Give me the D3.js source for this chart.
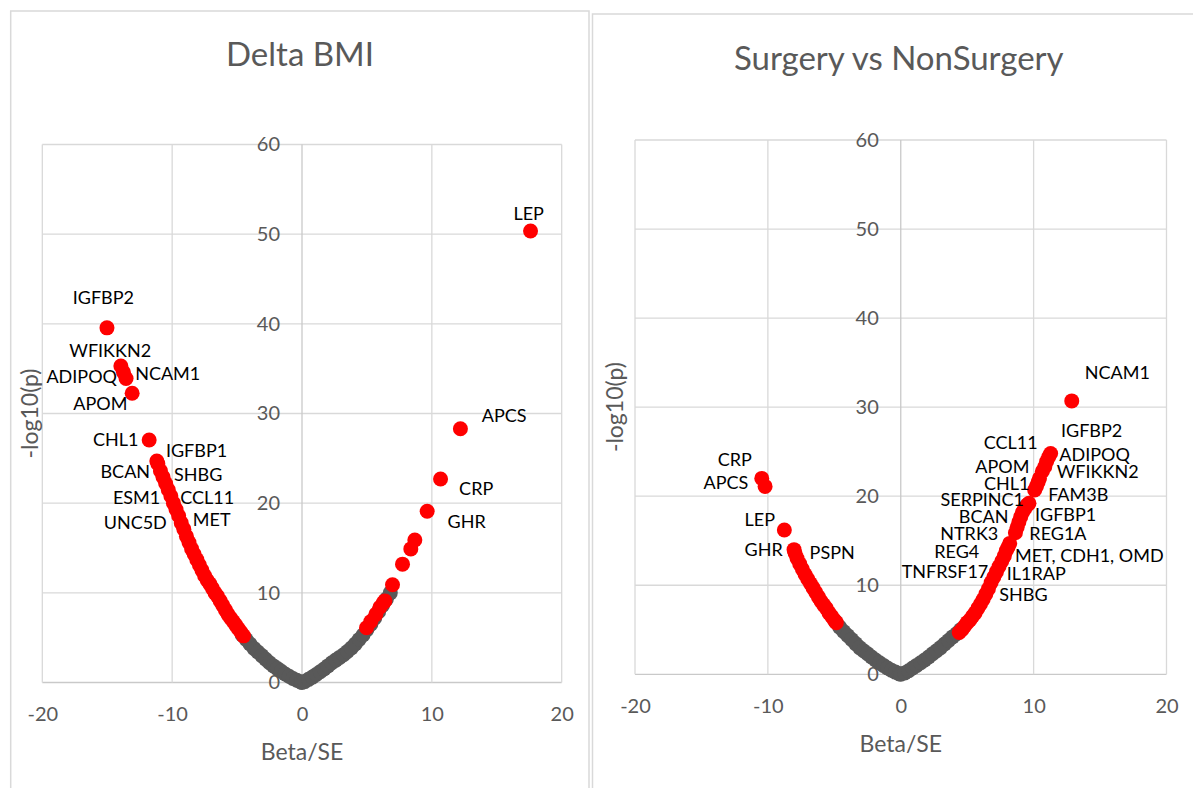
<!DOCTYPE html>
<html>
<head>
<meta charset="utf-8">
<script src="https://cdn.jsdelivr.net/npm/d3@7"></script>
<style>
  body { margin: 0; background: #fff; }
  text { font-family: Lato, "Open Sans", sans-serif; }
</style>
</head>
<body>
<div id="chart"></div>
<script>
// axis values
var xTicks = [-20, -10, 0, 10, 20];
var yTicks = [0, 10, 20, 30, 40, 50, 60];
var titles = ["Delta BMI", "Surgery vs NonSurgery"];
var xTitle = "Beta/SE";
var yTitle = "-log10(p)";

// Delta BMI : [Beta/SE, -log10(p)]
var bmiGray = [[-4.6,5.3],[-4.3,4.8],[-4.0,4.3],[-3.7,3.8],[-3.4,3.4],[-3.1,3.0],[-2.8,2.6],[-2.5,2.2],
  [-2.2,1.85],[-1.9,1.55],[-1.6,1.25],[-1.3,0.95],[-1.0,0.7],[-0.7,0.45],[-0.4,0.25],[-0.1,0.05],[0,0],
  [0.2,0.1],[0.5,0.35],[0.8,0.6],[1.1,0.9],[1.4,1.2],[1.7,1.5],[2.0,1.85],[2.3,2.2],[2.6,2.5],[2.9,2.8],
  [3.2,3.1],[3.5,3.45],[3.8,3.85],[4.1,4.3],[4.4,4.8],[4.7,5.3],[5.0,5.9],[5.3,6.5],[5.6,7.2],[5.9,7.9],
  [6.2,8.6],[6.5,9.3],[6.8,10.0]];
var bmiRed = [
  // positive side
  [4.97,6.1],[5.3,6.8],[5.69,7.6],[6.0,8.4],[6.26,8.9],[6.38,9.1],[6.97,10.9],[7.74,13.2],[8.38,14.9],
  [8.69,15.9],[9.64,19.1],[10.67,22.7],[12.2,28.3],[17.6,50.35],
  // negative side, dense band
  [-4.5,5.2],[-4.7,5.6],[-4.9,6.0],[-5.1,6.4],[-5.3,6.8],[-5.5,7.2],[-5.7,7.6],[-5.9,8.1],[-6.1,8.6],
  [-6.3,9.1],[-6.5,9.6],[-6.7,10.0],[-6.9,10.5],[-7.1,11.0],[-7.3,11.4],[-7.5,11.9],[-7.7,12.5],
  [-7.9,13.1],[-8.1,13.7],[-8.3,14.3],[-8.5,14.9],[-8.7,15.6],[-8.9,16.3],[-9.1,17.1],[-9.3,17.8],
  [-9.5,18.6],[-9.7,19.3],[-9.9,20.0],[-10.1,20.8],[-10.3,21.5],[-10.5,22.2],[-10.7,22.9],[-10.9,23.6],
  [-11.1,24.4],[-11.18,24.7],
  // negative side, top hits
  [-11.77,27.04],[-13.08,32.26],[-13.55,33.9],[-13.75,34.6],[-13.95,35.3],[-15.02,39.55]];
var bmiLabels = [
  ["IGFBP2",-15.3,42.2,"middle"],["WFIKKN2",-14.77,36.3,"middle"],["ADIPOQ",-14.25,33.4,"end"],
  ["NCAM1",-12.85,33.7,"start"],["APOM",-13.44,30.4,"end"],["CHL1",-12.6,26.4,"end"],
  ["IGFBP1",-10.48,25.1,"start"],["BCAN",-11.7,22.8,"end"],["SHBG",-9.85,22.5,"start"],
  ["ESM1",-10.92,19.9,"end"],["CCL11",-9.38,19.9,"start"],["UNC5D",-10.41,17.1,"end"],
  ["MET",-8.41,17.5,"start"],["LEP",17.46,51.6,"middle"],["APCS",13.85,29.05,"start"],
  ["CRP",12.1,20.9,"start"],["GHR",11.21,17.2,"start"]];

// Surgery vs NonSurgery : [Beta/SE, -log10(p)]
var surgGray = [[-4.9,5.9],[-4.6,5.3],[-4.3,4.8],[-4.0,4.35],[-3.7,3.9],[-3.4,3.45],[-3.1,3.0],[-2.8,2.65],
  [-2.5,2.3],[-2.2,1.95],[-1.9,1.6],[-1.6,1.3],[-1.3,1.0],[-1.0,0.7],[-0.7,0.45],[-0.4,0.25],[-0.1,0.05],
  [0,0],[0.3,0.15],[0.6,0.4],[0.9,0.7],[1.2,1.0],[1.5,1.3],[1.8,1.6],[2.1,1.95],[2.4,2.3],[2.7,2.65],
  [3.0,3.0],[3.3,3.4],[3.6,3.8],[3.9,4.2],[4.2,4.55],[4.5,5.0]];
var surgRed = [
  // negative side
  [-4.85,5.8],[-5.0,6.1],[-5.2,6.5],[-5.4,6.9],[-5.6,7.4],[-5.8,7.8],[-6.0,8.2],[-6.2,8.7],[-6.4,9.2],
  [-6.6,9.7],[-6.8,10.2],[-7.0,10.7],[-7.2,11.2],[-7.4,11.8],[-7.6,12.4],[-7.8,13.0],[-7.95,13.6],
  [-8.03,14.0],[-8.76,16.2],[-10.21,21.1],[-10.46,22.0],
  // positive side
  [4.4,4.7],[4.6,5.0],[4.8,5.4],[5.0,5.8],[5.2,6.1],[5.4,6.5],[5.6,6.9],[5.8,7.4],[6.0,7.9],[6.2,8.4],
  [6.4,9.0],[6.6,9.6],[6.8,10.3],[7.0,10.9],[7.2,11.5],[7.4,12.1],[7.6,12.7],[7.8,13.3],[7.95,13.9],
  [8.08,14.3],[8.2,14.7],[8.63,15.9],[8.76,16.5],[8.89,17.1],[9.03,17.7],[9.17,18.2],[9.33,18.6],
  [9.5,19.0],[9.65,19.2],[10.08,20.7],[10.21,21.1],[10.34,21.6],[10.44,22.0],[10.66,22.8],[10.84,23.3],
  [10.98,23.9],[11.13,24.4],[11.28,24.8],[12.87,30.7]];
var surgLabels = [
  ["CRP",-11.21,23.4,"end"],["APCS",-11.47,20.8,"end"],["LEP",-9.46,16.6,"end"],["GHR",-8.88,13.3,"end"],
  ["PSPN",-6.86,13.0,"start"],["NCAM1",16.3,33.2,"middle"],["IGFBP2",12.06,26.7,"start"],
  ["CCL11",10.31,25.3,"end"],["ADIPOQ",11.93,24.0,"start"],["APOM",9.68,22.65,"end"],
  ["WFIKKN2",11.74,22.0,"start"],["CHL1",9.68,20.7,"end"],["FAM3B",11.1,19.5,"start"],
  ["SERPINC1",9.28,18.85,"end"],["IGFBP1",10.1,17.25,"start"],["BCAN",8.1,17.0,"end"],
  ["NTRK3",7.34,15.1,"end"],["REG1A",9.68,15.1,"start"],["REG4",5.91,13.07,"end"],
  ["MET, CDH1, OMD",8.6,12.6,"start"],["TNFRSF17",6.59,10.83,"end"],["IL1RAP",7.98,10.64,"start"],
  ["SHBG",7.42,8.2,"start"]];

var W = 1193, H = 788;
var svg = d3.select("#chart").append("svg").attr("width", W).attr("height", H);
svg.append("rect").attr("width", W).attr("height", H).attr("fill", "#fff");

var panels = [
  {title: titles[0], gray: bmiGray, red: bmiRed, labels: bmiLabels,
   xr: [42.3, 561.7], yr: [682.5, 144.5], frame: [10.7, 11, 578.3, 800], titleY: 66, yTitleX: 38},
  {title: titles[1], gray: surgGray, red: surgRed, labels: surgLabels,
   xr: [635, 1166.5], yr: [674.3, 140], frame: [592.5, 14, 700, 800], titleY: 70, yTitleX: 623}
];

panels.forEach(function(p) {
  var x = d3.scaleLinear().domain([-20, 20]).range(p.xr);
  var y = d3.scaleLinear().domain([0, 60]).range(p.yr);
  var g = svg.append("g");

  g.append("rect")
    .attr("x", p.frame[0]).attr("y", p.frame[1])
    .attr("width", p.frame[2]).attr("height", p.frame[3])
    .attr("fill", "none").attr("stroke", "#d9d9d9").attr("stroke-width", 1.5);

  g.append("text")
    .attr("x", (p.xr[0] + p.xr[1]) / 2 - 2).attr("y", p.titleY)
    .attr("text-anchor", "middle").attr("font-size", 33).attr("fill", "#595959")
    .text(p.title);

  // grid
  g.append("g").selectAll("line").data(yTicks).join("line")
    .attr("x1", p.xr[0]).attr("x2", p.xr[1])
    .attr("y1", function(d) { return y(d); }).attr("y2", function(d) { return y(d); })
    .attr("stroke", function(d) { return d == 0 ? "#c9c9c9" : "#d9d9d9"; })
    .attr("stroke-width", 1.3);
  g.append("g").selectAll("line").data(xTicks).join("line")
    .attr("x1", function(d) { return x(d); }).attr("x2", function(d) { return x(d); })
    .attr("y1", y(0)).attr("y2", y(60))
    .attr("stroke", function(d) { return d == 0 ? "#c9c9c9" : "#d9d9d9"; })
    .attr("stroke-width", 1.3);

  // tick labels
  var ya = g.append("g").attr("transform", "translate(" + x(0) + ",0)")
    .call(d3.axisLeft(y).tickValues(yTicks).tickSize(0).tickPadding(22).tickFormat(function(d) { return String(d); }));
  ya.select(".domain").remove();
  ya.attr("font-family", null);
  ya.selectAll("text").attr("font-size", 20).attr("fill", "#595959");

  var xa = g.append("g").attr("transform", "translate(0," + y(0) + ")")
    .call(d3.axisBottom(x).tickValues(xTicks).tickSize(0).tickPadding(24.5).tickFormat(function(d) { return String(d); }));
  xa.select(".domain").remove();
  xa.attr("font-family", null);
  xa.selectAll("text").attr("font-size", 20).attr("fill", "#595959");

  // axis titles
  g.append("text")
    .attr("x", (p.xr[0] + p.xr[1]) / 2).attr("y", y(0) + 77.5)
    .attr("text-anchor", "middle").attr("font-size", 23).attr("fill", "#595959")
    .text(xTitle);
  g.append("text")
    .attr("transform", "translate(" + p.yTitleX + "," + (p.yr[0] + p.yr[1]) / 2 + ") rotate(-90)")
    .attr("text-anchor", "middle").attr("font-size", 23).attr("fill", "#595959")
    .text(yTitle);

  // points
  g.append("g").selectAll("circle").data(p.gray).join("circle")
    .attr("cx", function(d) { return x(d[0]); })
    .attr("cy", function(d) { return y(d[1]); })
    .attr("r", 7.5).attr("fill", "#595959");
  g.append("g").selectAll("circle").data(p.red).join("circle")
    .attr("cx", function(d) { return x(d[0]); })
    .attr("cy", function(d) { return y(d[1]); })
    .attr("r", 7.5).attr("fill", "#ff0000");

  // protein names
  g.append("g").selectAll("text").data(p.labels).join("text")
    .attr("x", function(d) { return x(d[1]); })
    .attr("y", function(d) { return y(d[2]); })
    .attr("text-anchor", function(d) { return d[3]; })
    .attr("font-size", 18).attr("fill", "#000")
    .text(function(d) { return d[0]; });
});
</script>
</body>
</html>
